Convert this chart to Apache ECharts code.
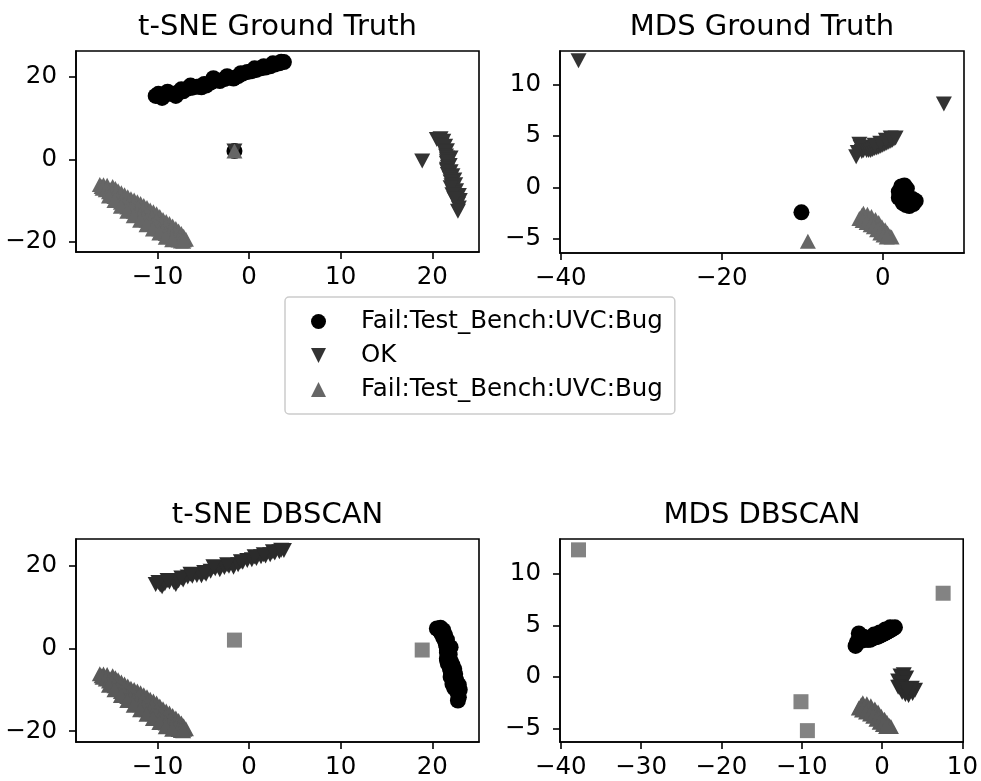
<!DOCTYPE html>
<html>
<head>
<meta charset="utf-8">
<title>t-SNE / MDS</title>
<script src="https://cdn.jsdelivr.net/npm/echarts@6/dist/echarts.min.js"></script>
<style>
  html, body { margin: 0; padding: 0; background: #fff; }
  #chart { width: 981px; height: 781px; }
</style>
</head>
<body>
<div id="chart"></div>
<script>
// t-SNE embedding, grouped by the blobs seen in the picture
const tsneUpper = [
  [-10.2, 15.4], [-9.7, 15.3], [-9.5, 14.9], [-9.2, 15.6], [-8.7, 16.0], [-8.2, 15.9], [-8.0, 15.4],
  [-7.7, 16.3], [-7.2, 16.5], [-6.7, 17.2], [-6.2, 17.4], [-5.7, 17.6], [-5.2, 17.5], [-4.7, 17.9],
  [-4.2, 18.6], [-3.7, 19.2], [-3.2, 19.0], [-2.7, 19.5], [-2.2, 19.8], [-1.7, 19.6], [-1.2, 20.2],
  [-0.7, 20.8], [-0.2, 21.2], [0.3, 21.4], [0.8, 21.7], [1.3, 22.1], [1.8, 22.3], [2.3, 22.6],
  [2.8, 23.0], [3.3, 23.3], [3.8, 23.6],
  [-9.9, 15.9], [-8.9, 16.4], [-7.4, 17.0], [-6.4, 17.9], [-4.9, 18.3], [-3.9, 19.7], [-2.4, 20.2],
  [-0.9, 20.9], [0.6, 22.1], [1.6, 22.6], [2.6, 23.3], [3.5, 23.7]
];
const tsneRight = [
  [20.5, 4.8], [20.9, 5.0], [20.8, 4.3], [21.2, 4.4], [21.0, 3.5], [21.4, 3.2], [21.2, 2.6], [21.6, 2.1],
  [21.4, 1.7], [21.5, 0.8], [22.0, 0.3], [21.6, 0.3], [21.6, -0.1], [21.6, -0.6], [21.6, -1.0],
  [21.9, -1.5], [21.7, -1.9], [21.6, -2.4], [21.6, -2.8], [22.0, -3.0], [21.7, -3.7], [22.2, -4.0],
  [21.9, -4.6], [22.4, -5.0], [22.0, -5.5], [22.1, -6.4], [22.5, -6.2], [22.2, -7.3], [22.6, -7.6],
  [22.3, -8.2], [22.5, -9.1], [22.9, -8.8], [22.6, -10.0], [23.0, -10.0], [22.8, -10.9],
  [22.9, -11.8], [22.8, -12.6], [22.0, -6.9], [22.2, -8.6], [22.4, -9.6]
];
const tsneLower = [
  [-16.3, -6.1], [-15.9, -6.2], [-15.5, -6.3], [-14.9, -6.6], [-14.6, -7.1], [-14.3, -7.6], [-13.95, -8.1],
  [-13.6, -8.6], [-13.25, -9.1], [-12.9, -9.6], [-12.55, -9.9], [-12.2, -10.3], [-11.85, -10.7], [-11.5, -11.2],
  [-11.15, -11.7], [-10.8, -12.3], [-10.45, -12.7], [-10.1, -13.2], [-9.75, -13.9], [-9.4, -14.6], [-9.05, -15.1],
  [-8.7, -15.6], [-8.35, -16.2], [-8.0, -16.8], [-7.7, -17.4], [-7.4, -18.0], [-7.15, -18.7], [-6.9, -19.4],
  [-16.1, -6.6], [-15.6, -7.0], [-15.1, -7.4], [-14.6, -8.0], [-14.1, -8.8], [-13.6, -9.6], [-13.1, -10.4],
  [-12.6, -11.0], [-12.1, -11.8], [-11.6, -12.4], [-11.1, -13.2], [-10.6, -14.0], [-10.1, -14.8], [-9.6, -15.6],
  [-9.1, -16.4], [-8.6, -17.2], [-8.1, -18.0], [-7.6, -18.8], [-7.1, -19.5],
  [-16.0, -7.0], [-15.65, -7.4], [-15.3, -7.9], [-15.0, -8.4], [-14.7, -9.0], [-14.35, -9.7], [-14.0, -10.4],
  [-13.65, -11.0], [-13.3, -11.6], [-12.95, -12.1], [-12.6, -12.6], [-12.25, -13.1], [-11.9, -13.6],
  [-11.55, -14.2], [-11.2, -14.8], [-10.85, -15.3], [-10.5, -15.8], [-10.15, -16.3], [-9.8, -16.9],
  [-9.45, -17.4], [-9.1, -18.0], [-8.75, -18.4], [-8.4, -18.8], [-8.05, -19.2], [-7.7, -19.6], [-7.45, -19.8],
  [-7.2, -19.9],
  [-15.3, -8.9], [-14.7, -10.0], [-14.0, -11.4], [-13.3, -12.6], [-12.6, -13.7], [-11.9, -14.8],
  [-11.2, -15.9], [-10.5, -16.9], [-9.8, -17.9], [-9.1, -18.9], [-8.4, -19.5]
];
const tsneCenter = [[-1.6, 2.0]];
const tsneSide = [[18.9, -0.4]];

// MDS embedding
const mdsUpper = [
  [-3.3, 3.0], [-3.1, 3.4], [-2.9, 4.2], [-2.75, 3.9], [-2.6, 3.5], [-2.4, 3.6], [-2.3, 3.9],
  [-2.0, 3.6], [-1.75, 3.6], [-1.5, 3.6], [-1.25, 3.7], [-1.0, 3.8], [-0.75, 3.85], [-0.5, 3.9],
  [-0.25, 4.0], [0.0, 4.1], [0.25, 4.2], [0.5, 4.3], [0.75, 4.4], [1.0, 4.5], [1.2, 4.6], [1.4, 4.7],
  [-1.0, 4.1], [-0.3, 4.3], [0.4, 4.6], [1.0, 4.8], [1.6, 4.8]
];
const mdsHeart = [
  [2.0, -0.4], [2.3, 0.1], [2.7, 0.2], [3.0, -0.1], [2.6, -0.6], [2.2, -1.0], [2.0, -1.0],
  [2.5, -1.5], [2.9, -1.7], [3.3, -1.8], [3.8, -1.6], [4.1, -1.3], [3.7, -1.1], [3.1, -1.2]
];
const mdsArc = [
  [-2.4, -2.5], [-1.9, -2.6], [-1.4, -2.8], [-0.9, -3.1], [-0.5, -3.4], [-0.1, -3.8], [0.3, -4.1],
  [0.6, -4.4], [0.9, -4.7], [1.1, -4.8],
  [-2.6, -2.7], [-2.2, -2.9], [-1.7, -3.1], [-1.3, -3.4], [-0.8, -3.7], [-0.4, -4.0], [0.0, -4.3],
  [0.4, -4.5], [0.7, -4.7],
  [-2.9, -3.0], [-2.5, -3.2], [-2.0, -3.4], [-1.5, -3.6], [-1.1, -3.8], [-0.7, -4.1], [-0.3, -4.4],
  [0.1, -4.6], [0.5, -4.8]
];
const mdsOutCircle = [[-10.1, -2.4]];
const mdsOutDown = [[-37.8, 12.3], [7.6, 8.1]];
const mdsOutUp = [[-9.3, -5.2]];

const legendLabels = {
  fail1: 'Fail:Test_Bench:UVC:Bug',
  ok: 'OK',
  fail2: 'Fail:Test_Bench:UVC:Bug'
};
const tsneXTicks = [-10, 0, 10, 20];
const tsneYTicks = [-20, 0, 20];
const mdsXTicksTop = [-40, -20, 0];
const mdsXTicksBottom = [-40, -30, -20, -10, 0, 10];
const mdsYTicks = [-5, 0, 5, 10];

const FONT = 'DejaVu Sans';
const DOWN = 'path://M0,0L20,0L10,20Z';

const grids = [
  { left: 76, top: 51, width: 403, height: 201 },
  { left: 560, top: 51, width: 404, height: 202 },
  { left: 76, top: 539, width: 403, height: 203 },
  { left: 560, top: 539, width: 404, height: 203 }
];

const fmt = v => String(v).replace('-', '\u2212');

function axis(gridIndex, min, max, ticks, isY) {
  return {
    type: 'value', gridIndex, min, max,
    axisLine: { show: true, onZero: false, lineStyle: { color: '#000', width: 1.6 } },
    axisTick: { show: true, length: 7, lineStyle: { color: '#000', width: 1.6 }, customValues: ticks },
    axisLabel: {
      customValues: ticks, formatter: fmt,
      fontSize: 24.5, fontFamily: FONT, color: '#000',
      margin: isY ? 19 : 13
    },
    splitLine: { show: false }
  };
}

function scatter(name, gi, data, symbol, size, color, z) {
  return {
    type: 'scatter', name, xAxisIndex: gi, yAxisIndex: gi, data,
    symbol, symbolSize: size, itemStyle: { color, opacity: 1 },
    z: z || 2, emphasis: { disabled: true }
  };
}

const option = {
  animation: false,
  backgroundColor: '#fff',
  grid: grids.map(g => Object.assign({ show: true, borderColor: '#000', borderWidth: 1.6, containLabel: false }, g)),
  xAxis: [
    axis(0, -18.9, 25.1, tsneXTicks),
    axis(1, -40.1, 10.1, mdsXTicksTop),
    axis(2, -18.9, 25.1, tsneXTicks),
    axis(3, -40.1, 10.1, mdsXTicksBottom)
  ],
  yAxis: [
    axis(0, -22.5, 26.3, tsneYTicks, true),
    axis(1, -6.35, 13.25, mdsYTicks, true),
    axis(2, -22.6, 26.4, tsneYTicks, true),
    axis(3, -6.3, 13.35, mdsYTicks, true)
  ],
  legend: {
    orient: 'vertical', left: 285, top: 297,
    padding: [12, 12, 12, 26],
    itemWidth: 15, itemHeight: 15, itemGap: 9,
    backgroundColor: '#fff', borderColor: '#cccccc', borderWidth: 1.5, borderRadius: 4,
    textStyle: { fontSize: 24.5, fontFamily: FONT, color: '#000', padding: [0, 0, 0, 30] },
    formatter: name => legendLabels[name],
    selectedMode: false,
    data: [
      { name: 'fail1', icon: 'circle' },
      { name: 'ok', icon: DOWN },
      { name: 'fail2', icon: 'triangle' }
    ]
  },
  graphic: [
    ['t-SNE Ground Truth', 277.5, 27],
    ['MDS Ground Truth', 762, 27],
    ['t-SNE DBSCAN', 277.5, 515],
    ['MDS DBSCAN', 762, 515]
  ].map(([text, x, y]) => ({
    type: 'text', x, y,
    style: { text, font: '29px "DejaVu Sans"', fill: '#000', align: 'center', verticalAlign: 'middle' }
  })),
  series: [
    // t-SNE ground truth
    scatter('fail1', 0, tsneUpper.concat(tsneCenter), 'circle', 16, '#000000'),
    scatter('ok', 0, tsneRight.concat(tsneCenter, tsneSide), DOWN, [16, 15], '#333333'),
    scatter('fail2', 0, tsneLower.concat(tsneCenter), 'triangle', [16, 15], '#666666'),
    // MDS ground truth
    scatter('fail1', 1, mdsHeart.concat(mdsOutCircle), 'circle', 16, '#000000'),
    scatter('ok', 1, mdsUpper.concat(mdsOutDown), DOWN, [16, 15], '#333333'),
    scatter('fail2', 1, mdsArc.concat(mdsOutUp), 'triangle', [16, 15], '#666666'),
    // t-SNE DBSCAN
    scatter('c0', 2, tsneRight, 'circle', 16, '#000000'),
    scatter('c1', 2, tsneUpper, DOWN, [16, 15], '#2b2b2b'),
    scatter('c2', 2, tsneLower, 'triangle', [16, 15], '#595959'),
    scatter('noise', 2, tsneCenter.concat(tsneSide), 'rect', 15, '#838383', 3),
    // MDS DBSCAN
    scatter('c0', 3, mdsUpper, 'circle', 16, '#000000'),
    scatter('c1', 3, mdsHeart, DOWN, [16, 15], '#2b2b2b'),
    scatter('c2', 3, mdsArc, 'triangle', [16, 15], '#595959'),
    scatter('noise', 3, mdsOutDown.concat(mdsOutCircle, mdsOutUp), 'rect', 15, '#838383', 3)
  ]
};

const chart = echarts.init(document.getElementById('chart'));
chart.setOption(option);
</script>
</body>
</html>
